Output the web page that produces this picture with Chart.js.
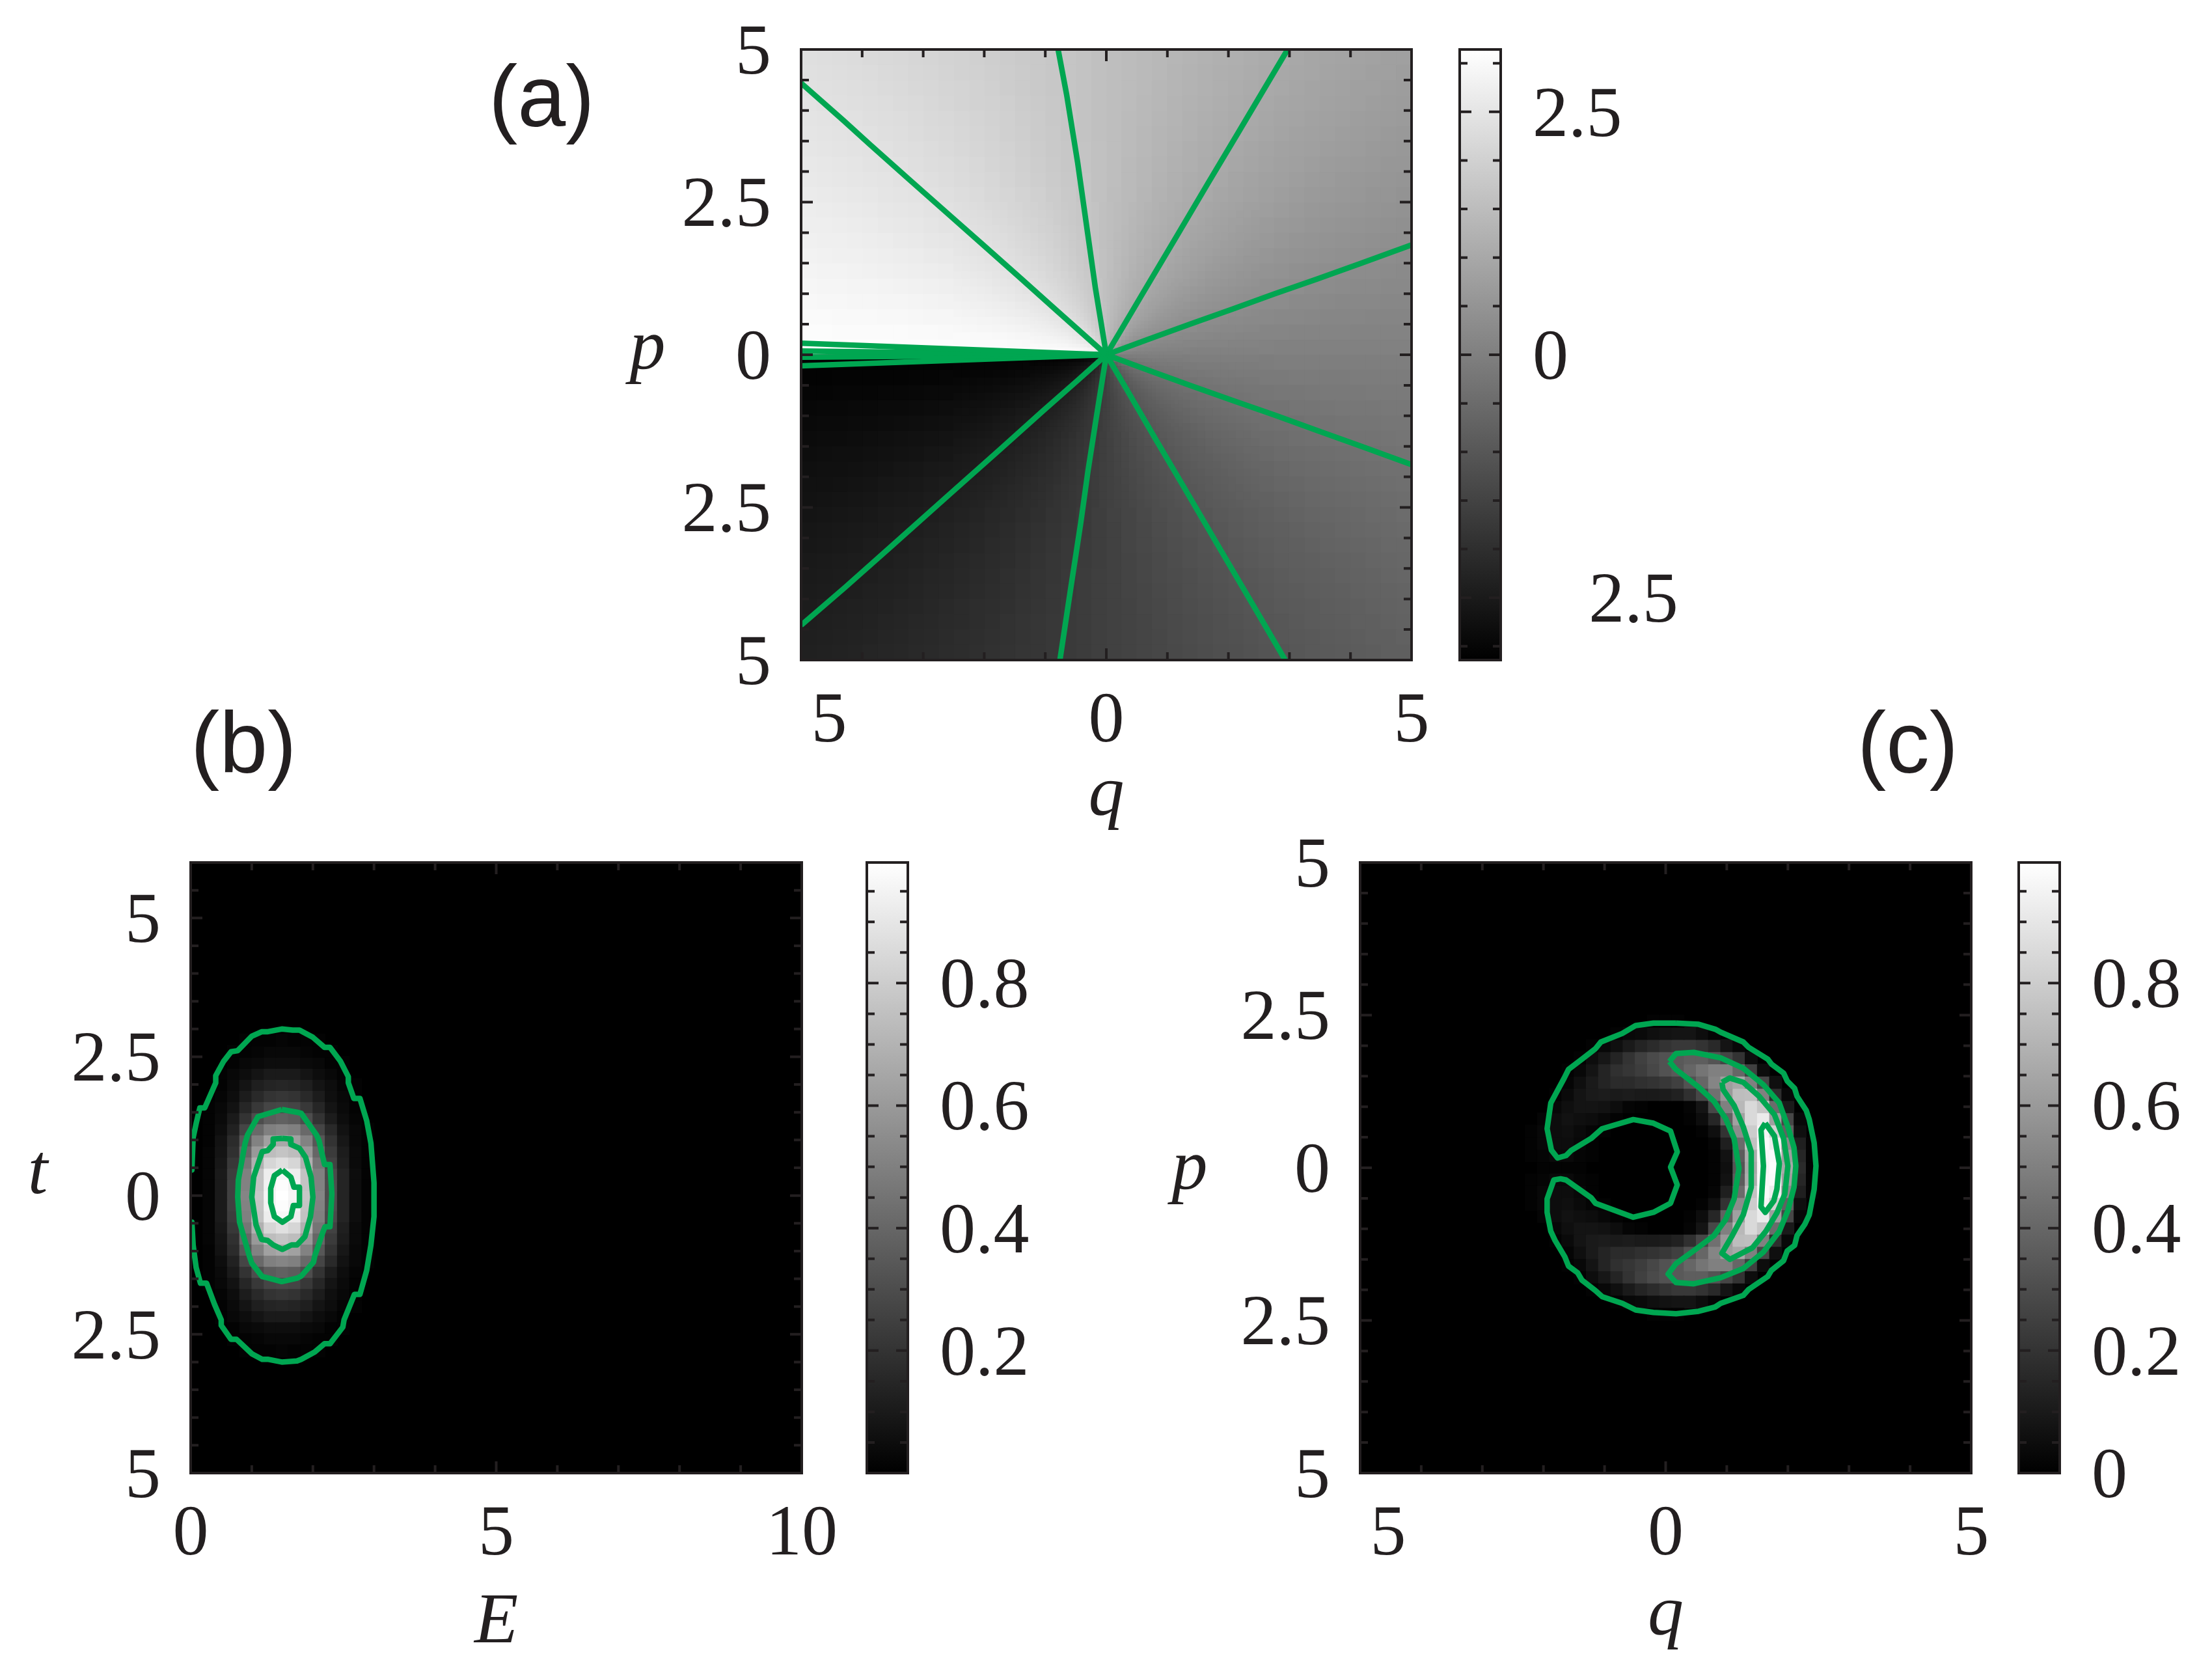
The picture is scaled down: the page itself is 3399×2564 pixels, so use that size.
<!DOCTYPE html>
<html>
<head>
<meta charset="utf-8">
<script src="https://cdn.jsdelivr.net/npm/chart.js@4"></script>
<style>
  html, body { margin: 0; padding: 0; background: #fff; }
  body { position: relative; width: 3399px; height: 2564px; overflow: hidden; }
  canvas { position: absolute; }
  .tag { position: absolute; font: 133px/1 "Liberation Sans", sans-serif; color: #231f20; }
  .ylab { position: absolute; font: italic 110px/1 "Liberation Serif", serif; color: #231f20; transform: translate(-50%, -50%); }
</style>
</head>
<body>
<div class="tag" style="left:751px;top:82px">(a)</div>
<div class="tag" style="left:293px;top:1075px">(b)</div>
<div class="tag" style="left:2854px;top:1075px">(c)</div>
<div class="ylab" style="left:995px;top:530px">p</div>
<div class="ylab" style="left:58px;top:1796px">t</div>
<div class="ylab" style="left:1828px;top:1790px">p</div>
<canvas id="panelA"></canvas><canvas id="barA"></canvas>
<canvas id="panelB"></canvas><canvas id="barB"></canvas>
<canvas id="panelC"></canvas><canvas id="barC"></canvas>
<script>
// panel (a): phase in the quadrant q > 0, p > 0. Rows go up in p, columns go right in q.
// the other quadrants are its reflections: q -> -q gives pi - v, p -> -p gives -v
var phaseQuadrant = [
  [.79,.32,.20,.14,.11,.09,.08,.07,.06,.05,.05,.04,.04,.04,.03,.03,.03,.03,.03,.03],
  [1.25,.79,.54,.40,.32,.27,.23,.20,.17,.16,.14,.13,.12,.11,.10,.10,.09,.09,.08,.08],
  [1.37,1.03,.79,.62,.51,.43,.37,.32,.29,.26,.23,.21,.20,.18,.17,.16,.15,.14,.13,.13],
  [1.43,1.17,.95,.79,.66,.57,.49,.44,.39,.35,.32,.30,.27,.25,.24,.22,.21,.20,.19,.18],
  [1.46,1.25,1.06,.91,.79,.69,.61,.54,.49,.44,.40,.37,.35,.32,.30,.28,.27,.25,.24,.23],
  [1.48,1.30,1.14,1.00,.89,.79,.70,.63,.57,.52,.48,.45,.41,.39,.36,.34,.32,.30,.29,.27],
  [1.49,1.34,1.20,1.08,.97,.87,.79,.71,.65,.60,.55,.51,.48,.45,.42,.40,.38,.36,.34,.32],
  [1.50,1.37,1.25,1.13,1.03,.94,.86,.79,.72,.67,.62,.58,.54,.51,.48,.45,.43,.40,.39,.37],
  [1.51,1.40,1.28,1.18,1.08,.99,.92,.85,.79,.73,.68,.64,.60,.56,.53,.50,.48,.45,.43,.41],
  [1.52,1.41,1.31,1.22,1.13,1.05,.97,.90,.84,.79,.74,.69,.65,.61,.58,.55,.52,.50,.47,.45],
  [1.52,1.43,1.34,1.25,1.17,1.09,1.02,.95,.89,.84,.79,.74,.70,.66,.63,.60,.57,.54,.52,.49],
  [1.53,1.44,1.36,1.27,1.20,1.13,1.06,.99,.93,.88,.83,.79,.74,.71,.67,.64,.61,.58,.56,.53],
  [1.53,1.45,1.37,1.30,1.22,1.16,1.09,1.03,.97,.92,.87,.83,.79,.75,.71,.68,.65,.62,.59,.57],
  [1.53,1.46,1.39,1.32,1.25,1.18,1.12,1.06,1.01,.96,.91,.86,.82,.79,.75,.72,.69,.66,.63,.61],
  [1.54,1.47,1.40,1.33,1.27,1.21,1.15,1.09,1.04,.99,.94,.90,.86,.82,.79,.75,.72,.69,.66,.64],
  [1.54,1.47,1.41,1.35,1.29,1.23,1.17,1.12,1.07,1.02,.97,.93,.89,.85,.82,.79,.75,.72,.70,.67],
  [1.54,1.48,1.42,1.36,1.30,1.25,1.19,1.14,1.10,1.05,1.00,.96,.92,.89,.85,.82,.79,.76,.73,.70],
  [1.54,1.48,1.43,1.37,1.32,1.27,1.22,1.17,1.12,1.07,1.03,.99,.95,.91,.88,.85,.81,.79,.76,.73],
  [1.54,1.49,1.44,1.38,1.33,1.28,1.23,1.18,1.14,1.10,1.05,1.01,.98,.94,.90,.87,.84,.81,.79,.76],
  [1.55,1.49,1.44,1.39,1.34,1.30,1.25,1.20,1.16,1.12,1.08,1.04,1.00,.96,.93,.90,.87,.84,.81,.79]
];
// the phase only changes with the angle, so the same table is laid down again at finer cells near the centre
var phaseCellSizes = [0.25, 0.125, 0.0625];

// panel (b): density, E across, t >= 0 down (t < 0 is the mirror)
var gridE = [.1,.3,.5,.7,.9,1.1,1.3,1.5,1.7,1.9,2.1,2.3,2.5,2.7,2.9,3.1];
var gridT = [0,.2,.4,.6,.8,1,1.2,1.4,1.6,1.8,2,2.2,2.4,2.6,2.8];
var densityEt = [
  [0,.02,.1,.25,.52,.78,.96,1,.96,.78,.52,.3,.14,.05,.01,0],
  [0,.02,.1,.25,.51,.77,.95,.99,.95,.77,.51,.3,.14,.05,.01,0],
  [0,.02,.1,.24,.5,.76,.93,.97,.93,.76,.5,.29,.14,.05,.01,0],
  [0,.02,.09,.22,.46,.69,.84,.88,.84,.69,.46,.26,.12,.04,.01,0],
  [0,.02,.08,.19,.4,.6,.74,.77,.74,.6,.4,.23,.11,.04,.01,0],
  [0,.01,.07,.17,.34,.51,.63,.66,.63,.51,.34,.2,.09,.03,.01,0],
  [0,.01,.05,.13,.27,.41,.5,.52,.5,.41,.27,.16,.07,.03,.01,0],
  [0,.01,.04,.1,.2,.3,.36,.38,.36,.3,.2,.11,.05,.02,0,0],
  [0,.01,.03,.07,.15,.22,.27,.28,.27,.22,.15,.08,.04,.01,0,0],
  [0,0,.02,.05,.11,.16,.2,.21,.2,.16,.11,.06,.03,.01,0,0],
  [0,0,.01,.04,.08,.12,.14,.15,.14,.12,.08,.05,.02,.01,0,0],
  [0,0,.01,.03,.05,.08,.1,.1,.1,.08,.05,.03,.01,0,0,0],
  [0,0,0,.01,.03,.04,.05,.05,.05,.04,.03,.01,.01,0,0,0],
  [0,0,0,.01,.01,.02,.03,.03,.03,.02,.01,.01,0,0,0,0],
  [0,0,0,0,.01,.01,.01,.02,.01,.01,.01,0,0,0,0,0]
];

// panel (c): density, q across, p >= 0 down (p < 0 is the mirror)
var gridQ = [-2.4,-2.2,-2,-1.8,-1.6,-1.4,-1.2,-1,-.8,-.6,-.4,-.2,0,.2,.4,.6,.8,1,1.2,1.4,1.6,1.8,2,2.2,2.4];
var gridP = [0,.2,.4,.6,.8,1,1.2,1.4,1.6,1.8,2,2.2,2.4];
var densityQp = [
  [0,0,.01,.01,.01,.01,0,0,0,0,0,0, 0, 0,0,0,.01,.06,.33,.66,.96,.99,.66,.17,.01],
  [0,.01,.02,.04,.04,.02,.01,0,0,0,0,0, 0, 0,0,0,.01,.07,.36,.68,.97,.98,.62,.15,.01],
  [0,.01,.03,.05,.05,.03,.01,0,0,0,0,0, 0, 0,0,0,.02,.12,.42,.76,.98,.93,.54,.12,.01],
  [0,.01,.03,.05,.06,.04,.02,.01,0,0,0,0, 0, 0,0,.01,.06,.2,.55,.8,.96,.82,.38,.06,0],
  [0,0,.02,.05,.07,.06,.05,.03,.01,0,0,0, 0, 0,.01,.05,.15,.38,.63,.85,.92,.62,.28,.03,0],
  [0,0,0,.03,.06,.08,.08,.07,.05,.02,.01,0, 0, 0,.02,.08,.28,.5,.72,.85,.78,.42,.1,0,0],
  [0,0,0,.01,.04,.08,.1,.11,.1,.11,.1,.1, .11, .13,.19,.28,.44,.6,.74,.75,.5,.18,.03,0,0],
  [0,0,0,0,.02,.06,.1,.14,.17,.17,.19,.2, .22, .25,.32,.4,.52,.62,.66,.5,.28,.06,0,0,0],
  [0,0,0,0,.01,.03,.08,.14,.19,.21,.24,.28, .32, .35,.4,.46,.5,.5,.4,.25,.05,0,0,0,0],
  [0,0,0,0,0,.01,.05,.09,.14,.2,.25,.29, .32, .35,.37,.37,.33,.27,.2,.05,0,0,0,0,0],
  [0,0,0,0,0,0,.01,.03,.06,.1,.14,.17, .2, .22,.22,.2,.16,.08,.03,0,0,0,0,0,0],
  [0,0,0,0,0,0,0,0,.01,.03,.04,.06, .07, .08,.08,.05,.02,0,0,0,0,0,0,0,0],
  [0,0,0,0,0,0,0,0,0,0,0,.01, .01, .01,0,0,0,0,0,0,0,0,0,0,0]
];

// contours of panel (a), all rays end in the centre
var rayOrigin = [0, 0];
var raysA = [
  [[-5,4.45],[-4.31,3.84],[-3.88,3.45],[-3.24,2.88],[-2.55,2.27],[-2.03,1.81],[-1.40,1.25],[-.82,.73]],
  [[-.79,5],[-.65,4.26],[-.47,3.15],[-.30,1.95],[-.18,1.10]],
  [[2.97,5],[2.59,4.36],[2.18,3.67],[1.66,2.8],[1.14,1.92],[.57,.96],[.22,.37]],
  [[5,1.80],[4.15,1.49],[3.45,1.24],[2.76,1],[2.07,.75],[1.37,.5],[.68,.25]],
  [[5,-1.80],[4.15,-1.49],[3.45,-1.24],[2.76,-.99],[2.07,-.75],[1.37,-.5],[.68,-.25]],
  [[2.93,-5],[2.41,-4.11],[1.84,-3.14],[1.26,-2.15],[.80,-1.37],[.33,-.56]],
  [[-.76,-5],[-.59,-3.87],[-.42,-2.76],[-.30,-1.90],[-.18,-1.13]],
  [[-5,-4.43],[-4.28,-3.81],[-3.48,-3.10],[-2.55,-2.27],[-1.74,-1.55],[-1.05,-.93],[-.47,-.42]],
  [[-5,.19]],
  [[-5,.06]],
  [[-5,-.04]],
  [[-5,-.18]]
];

// contours of panel (b)
var contoursB = [
  [[0,.46],[.02,.46],[.04,1.04],[.09,1.30],[.15,1.58],[.23,1.58],[.41,2.03],[.41,2.16],[.54,2.42],[.66,2.59],[.77,2.61],[1,2.87],[1.16,2.95],[1.25,2.95],[1.49,3],[1.67,2.98],[1.78,2.98],[2,2.85],[2.19,2.67],[2.28,2.67],[2.45,2.42],[2.58,2.14],[2.58,2.03],[2.67,1.75],[2.77,1.75],[2.88,1.35],[2.95,.94],[3,.23],[3,-.38],[2.95,-.89],[2.88,-1.35],[2.77,-1.78],[2.68,-1.78],[2.51,-2.24],[2.49,-2.37],[2.28,-2.67],[2.19,-2.67],[2.03,-2.82],[1.81,-2.95],[1.74,-2.98],[1.49,-3],[1.26,-2.95],[1.17,-2.95],[1,-2.85],[.75,-2.59],[.66,-2.59],[.5,-2.34],[.5,-2.24],[.39,-1.96],[.26,-1.58],[.16,-1.58],[.09,-1.30],[.04,-.89],[.02,-.48],[0,-.48]],
  [[1.49,1.55],[1.19,1.45],[1.1,1.42],[.93,1.09],[.89,.94],[.78,.28],[.77,-.03],[.8,-.48],[.96,-1.09],[1,-1.22],[1.17,-1.46],[1.25,-1.48],[1.49,-1.55],[1.74,-1.49],[1.81,-1.45],[2.01,-1.2],[2.03,-1.09],[2.17,-.64],[2.2,-.56],[2.28,-.56],[2.31,.03],[2.28,.56],[2.19,.56],[2.1,.99],[2.06,1.09],[1.81,1.48],[1.74,1.5],[1.49,1.55]],
  [[1.5,1.03],[1.63,1.02],[1.64,.92],[1.78,.85],[1.88,.69],[1.97,.33],[2,-.03],[1.96,-.38],[1.87,-.74],[1.74,-.89],[1.65,-.89],[1.5,-.97],[1.35,-.89],[1.26,-.81],[1.16,-.79],[1.07,-.53],[1,-.03],[1.03,.33],[1.17,.79],[1.26,.81],[1.35,.92],[1.35,1.02],[1.5,1.03]],
  [[1.5,.46],[1.64,.33],[1.69,.15],[1.78,.15],[1.78,-.18],[1.68,-.18],[1.64,-.38],[1.5,-.48],[1.37,-.38],[1.31,-.13],[1.31,.13],[1.37,.36],[1.5,.46]]
];

// contours of panel (c)
var contoursC = [
  [[.17,2.37],[.54,2.35],[.81,2.27],[.9,2.22],[1.27,2.06],[1.36,1.97],[1.67,1.78],[1.73,1.7],[1.93,1.55],[1.99,1.42],[2.11,1.3],[2.15,1.17],[2.3,.94],[2.35,.79],[2.43,.41],[2.46,.03],[2.43,-.35],[2.35,-.77],[2.28,-.92],[2.15,-1.11],[2.11,-1.27],[1.99,-1.36],[1.93,-1.52],[1.73,-1.68],[1.67,-1.78],[1.36,-1.99],[1.27,-2.09],[.9,-2.22],[.81,-2.28],[.54,-2.35],[.17,-2.39],[-.2,-2.37],[-.49,-2.33],[-.71,-2.22],[-1.04,-2.11],[-1.15,-2.01],[-1.37,-1.84],[-1.44,-1.72],[-1.59,-1.61],[-1.65,-1.46],[-1.81,-1.19],[-1.88,-1.04],[-1.94,-.73],[-1.94,-.51],[-1.83,-.2],[-1.72,-.18],[-1.63,-.2],[-1.22,-.49],[-1.15,-.58],[-.53,-.81],[-.2,-.73],[.08,-.58],[.19,-.28],[.08,.01],[.19,.26],[.08,.6],[-.2,.73],[-.53,.79],[-1.04,.64],[-1.22,.48],[-1.55,.28],[-1.63,.2],[-1.77,.16],[-1.87,.29],[-1.94,.64],[-1.88,1.06],[-1.66,1.47],[-1.59,1.61],[-1.37,1.78],[-1.15,1.95],[-1.06,2.06],[-.71,2.2],[-.49,2.33],[-.2,2.37],[.17,2.37]],
  [[.06,1.74],[.17,1.87],[.46,1.89],[.9,1.8],[1.27,1.63],[1.6,1.36],[1.86,1.06],[2,.67],[2.1,.33],[2.13,.03],[2.1,-.32],[2,-.7],[1.86,-1.04],[1.6,-1.38],[1.27,-1.65],[.9,-1.8],[.46,-1.9],[.17,-1.88],[.04,-1.74],[.17,-1.57],[.54,-1.3],[.79,-1.11],[.98,-.85],[1.12,-.51],[1.2,-.01],[1.12,.48],[.98,.81],[.79,1.09],[.54,1.32],[.17,1.61],[.06,1.74]],
  [[.92,1.4],[1.05,1.47],[1.27,1.4],[1.53,1.17],[1.78,.87],[1.93,.48],[2,.03],[1.95,-.43],[1.82,-.74],[1.64,-1.04],[1.42,-1.31],[1.05,-1.5],[.92,-1.4],[1.09,-1.11],[1.27,-.77],[1.4,-.32],[1.4,.26],[1.27,.67],[1.12,1.02],[.94,1.28],[.92,1.4]],
  [[1.63,.73],[1.78,.52],[1.86,.07],[1.82,-.35],[1.77,-.54],[1.63,-.73],[1.56,-.64],[1.6,.03],[1.56,.62],[1.63,.73]]
];

// tick labels (the minus signs are missing in the picture, only their room is kept)
var minusRoom = '\u2002\u2009\u200a';
var sideValues = [-5, -2.5, 0, 2.5, 5];
var sideLabels = ['5', '2.5', '0', '2.5', '5'];
var bottomValues = [-5, 0, 5];
var bottomLabels = [minusRoom + '5', '0', '5'];
var energyValues = [0, 5, 10];
var energyLabels = ['0', '5', '10'];
var phaseBarValues = [-2.5, 0, 2.5];
var phaseBarLabels = [minusRoom + '2.5', '0', '2.5'];
var densityBarValues = [.2, .4, .6, .8];
var densityBarLabels = ['0.2', '0.4', '0.6', '0.8'];
var densityBarValuesC = [0, .2, .4, .6, .8];
var densityBarLabelsC = ['0', '0.2', '0.4', '0.6', '0.8'];

var ink = '#231f20';
var green = '#00a651';
var tickFont = { family: '"Liberation Serif", serif', size: 110 };

function labelsAt(values, labels) {
  return function (v) {
    var i = values.findIndex(function (x) { return Math.abs(x - v) < 1e-6; });
    return i < 0 ? '' : labels[i];
  };
}

function gray(v) {
  var c = Math.round(255 * Math.max(0, Math.min(1, v)));
  return 'rgb(' + c + ',' + c + ',' + c + ')';
}

// a square cell as big as "size" data units on the x scale
function cellDataset(points, colors, size, order) {
  return {
    data: points,
    order: order,
    pointStyle: 'rect',
    pointBorderWidth: 0,
    pointBackgroundColor: colors,
    pointRadius: function (c) {
      var x = c.chart.scales.x;
      if (!x) return 0;
      var side = Math.abs(x.getPixelForValue(size) - x.getPixelForValue(0)) + 1;
      return side / Math.SQRT2;
    }
  };
}

function lineDataset(points) {
  return {
    data: points.map(function (p) { return { x: p[0], y: p[1] }; }),
    showLine: true,
    order: 0,
    pointRadius: 0,
    borderColor: green,
    borderWidth: 8.5,
    borderJoinStyle: 'round',
    tension: 0
  };
}

function phaseCells(size, order) {
  var pts = [], cols = [];
  function add(q, p, v) {
    pts.push({ x: q, y: p });
    cols.push(gray((v + Math.PI) / (2 * Math.PI)));
  }
  phaseQuadrant.forEach(function (row, i) {
    row.forEach(function (v, j) {
      var q = (j + .5) * size, p = (i + .5) * size;
      add(q, p, v);
      add(-q, p, Math.PI - v);
      add(q, -p, -v);
      add(-q, -p, v - Math.PI);
    });
  });
  return cellDataset(pts, cols, size, order);
}

function mirroredCells(rows, xs, ys, size) {
  var pts = [], cols = [];
  rows.forEach(function (row, r) {
    row.forEach(function (v, i) {
      if (v === 0) return;
      pts.push({ x: xs[i], y: ys[r] }); cols.push(gray(v));
      if (ys[r] !== 0) { pts.push({ x: xs[i], y: -ys[r] }); cols.push(gray(v)); }
    });
  });
  return cellDataset(pts, cols, size, 1);
}

// frame and inward ticks, all four sides
var frameTicks = {
  id: 'frameTicks',
  afterDatasetsDraw: function (chart, args, opts) {
    var ctx = chart.ctx, a = chart.chartArea;
    ctx.save();
    ctx.strokeStyle = ink;
    ctx.lineWidth = 4;
    ctx.beginPath();
    var xs = chart.scales.x, ys = chart.scales.y;
    if (opts.xMajor) {
      xs.ticks.forEach(function (t) {
        if (t.value <= xs.min || t.value >= xs.max) return;
        var px = xs.getPixelForValue(t.value);
        var len = Math.abs(t.value / opts.xMajor - Math.round(t.value / opts.xMajor)) < 1e-6 ? 18 : 12;
        ctx.moveTo(px, a.bottom); ctx.lineTo(px, a.bottom - len);
        ctx.moveTo(px, a.top); ctx.lineTo(px, a.top + len);
      });
    }
    ys.ticks.forEach(function (t) {
      if (t.value <= ys.min || t.value >= ys.max) return;
      var py = ys.getPixelForValue(t.value);
      var len = Math.abs(t.value / opts.yMajor - Math.round(t.value / opts.yMajor)) < 1e-6 ? 18 : 12;
      ctx.moveTo(a.left, py); ctx.lineTo(a.left + len, py);
      ctx.moveTo(a.right, py); ctx.lineTo(a.right - len, py);
    });
    ctx.stroke();
    ctx.strokeRect(a.left, a.top, a.right - a.left, a.bottom - a.top);
    ctx.restore();
  }
};

// black ground under the heat cells
var ground = {
  id: 'ground',
  beforeDatasetsDraw: function (chart) {
    var a = chart.chartArea;
    chart.ctx.save();
    chart.ctx.fillStyle = '#000';
    chart.ctx.fillRect(a.left, a.top, a.right - a.left, a.bottom - a.top);
    chart.ctx.restore();
  }
};

function place(id, left, top, w, h) {
  var c = document.getElementById(id);
  c.width = w; c.height = h;
  c.style.left = left + 'px';
  c.style.top = top + 'px';
  return c;
}

function heatPanel(id, box, datasets, x, y) {
  var leftM = 220, rightM = 70, topM = 70, bottomM = box.bottomM;
  var c = place(id, box.left - leftM, box.top - topM, leftM + box.w + rightM, topM + box.h + bottomM);
  new Chart(c, {
    type: 'scatter',
    data: { datasets: datasets },
    plugins: [ground, frameTicks],
    options: {
      responsive: false,
      animation: false,
      events: [],
      devicePixelRatio: 1,
      layout: { padding: { top: topM, right: rightM, left: 0, bottom: 0 } },
      plugins: {
        legend: { display: false },
        tooltip: { enabled: false },
        frameTicks: { xMajor: x.major, yMajor: y.major }
      },
      scales: {
        x: {
          type: 'linear', min: x.min, max: x.max,
          grid: { display: false }, border: { display: false },
          title: { display: true, text: x.title, color: ink, font: { family: tickFont.family, size: 110, style: 'italic' }, padding: { top: 0, bottom: 0 } },
          ticks: { stepSize: x.step, autoSkip: false, maxRotation: 0, color: ink, font: tickFont, padding: 22, includeBounds: false, callback: labelsAt(x.values, x.labels) },
          afterFit: function (s) { s.height = bottomM; s.paddingLeft = 0; s.paddingRight = 0; }
        },
        y: {
          type: 'linear', min: y.min, max: y.max,
          grid: { display: false }, border: { display: false },
          ticks: { stepSize: y.step, autoSkip: false, color: ink, font: tickFont, padding: 38, labelOffset: 8, includeBounds: false, callback: labelsAt(y.values, y.labels) },
          afterFit: function (s) { s.width = leftM; s.paddingTop = 0; s.paddingBottom = 0; }
        }
      }
    }
  });
}

function colorBar(id, box, min, max, step, major, values, labels) {
  var topM = 60, bottomM = 60, leftM = 10, rightM = 300;
  var c = place(id, box.left - leftM, box.top - topM, leftM + box.w + rightM, topM + box.h + bottomM);
  new Chart(c, {
    type: 'bar',
    data: {
      labels: [''],
      datasets: [{
        data: [[min, max]],
        barPercentage: 1,
        categoryPercentage: 1,
        backgroundColor: function (ctx) {
          var a = ctx.chart.chartArea;
          if (!a) return '#000';
          var g = ctx.chart.ctx.createLinearGradient(0, a.bottom, 0, a.top);
          g.addColorStop(0, '#000');
          g.addColorStop(1, '#fff');
          return g;
        }
      }]
    },
    plugins: [frameTicks],
    options: {
      responsive: false,
      animation: false,
      events: [],
      devicePixelRatio: 1,
      layout: { padding: { top: topM, bottom: bottomM, left: leftM, right: 0 } },
      plugins: {
        legend: { display: false },
        tooltip: { enabled: false },
        frameTicks: { yMajor: major }
      },
      scales: {
        x: { display: false },
        y: {
          position: 'right', min: min, max: max,
          grid: { display: false }, border: { display: false },
          ticks: { stepSize: step, autoSkip: false, color: ink, font: tickFont, padding: 41, labelOffset: 8, includeBounds: false, callback: labelsAt(values, labels) },
          afterFit: function (s) { s.width = rightM; s.paddingTop = 0; s.paddingBottom = 0; }
        }
      }
    }
  });
}

var raysDatasets = raysA.map(function (r) { return lineDataset(r.concat([rayOrigin])); });
var phaseDatasets = phaseCellSizes.map(function (s, i) { return phaseCells(s, phaseCellSizes.length - i); });

heatPanel('panelA', { left: 1231, top: 76, w: 938, h: 938, bottomM: 275 }, raysDatasets.concat(phaseDatasets),
  { min: -5, max: 5, step: 1, major: 5, values: bottomValues, labels: bottomLabels, title: 'q' },
  { min: -5, max: 5, step: .5, major: 2.5, values: sideValues, labels: sideLabels });

heatPanel('panelB', { left: 293, top: 1325, w: 939, h: 938, bottomM: 297 },
  contoursB.map(lineDataset).concat([mirroredCells(densityEt, gridE, gridT, .2)]),
  { min: 0, max: 10, step: 1, major: 5, values: energyValues, labels: energyLabels, title: 'E' },
  { min: -5, max: 6, step: .5, major: 2.5, values: sideValues, labels: sideLabels });

heatPanel('panelC', { left: 2090, top: 1325, w: 939, h: 938, bottomM: 285 },
  contoursC.map(lineDataset).concat([mirroredCells(densityQp, gridQ, gridP, .2)]),
  { min: -5, max: 5, step: 1, major: 5, values: bottomValues, labels: bottomLabels, title: 'q' },
  { min: -5, max: 5, step: .5, major: 2.5, values: sideValues, labels: sideLabels });

colorBar('barA', { left: 2243, top: 76, w: 63, h: 938 }, -3.1416, 3.1416, .5, 2.5, phaseBarValues, phaseBarLabels);
colorBar('barB', { left: 1332, top: 1325, w: 63, h: 938 }, 0, .997, .05, .2, densityBarValues, densityBarLabels);
colorBar('barC', { left: 3102, top: 1325, w: 63, h: 938 }, 0, .997, .05, .2, densityBarValuesC, densityBarLabelsC);
</script>
</body>
</html>
